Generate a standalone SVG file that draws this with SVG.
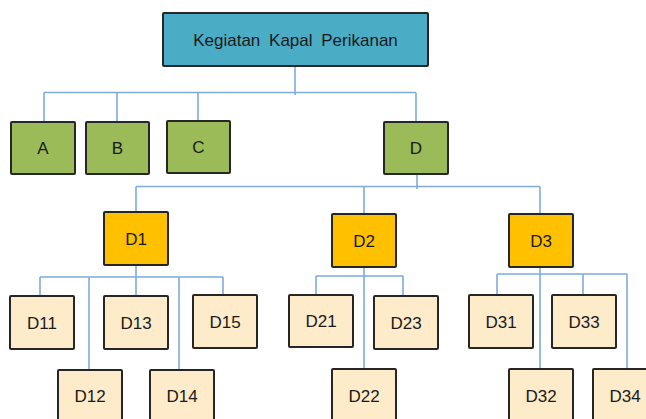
<svg xmlns="http://www.w3.org/2000/svg" width="646" height="419" viewBox="0 0 646 419">
<style>
.box{stroke:#262626;stroke-width:2;rx:1}
.top{fill:#4BACC6}
.g{fill:#9BBB59}
.o{fill:#FFC000}
.c{fill:#FDEBC9}
text{font-family:"Liberation Sans",Arial,sans-serif;font-size:17px;fill:#1a1a1a;text-anchor:middle}
.conn path{fill:none;stroke:#7FAADC;stroke-width:1.6}
</style>
<rect width="646" height="419" fill="#ffffff"/>
<g class="conn" id="connectors">
<path d="M295 66V95"/>
<path d="M44 92.5H416M44 92.5V122M117 92.5V122M198 92.5V121M416 92.5V122"/>
<path d="M417 174V189"/>
<path d="M136 186.5H540M136 186.5V212M364 186.5V214M540 186.5V214"/>
<path d="M136 265V296"/>
<path d="M40 277H223M40 277V296M89 277V370M179 277V370M223 277V295"/>
<path d="M364 267V369"/>
<path d="M316 276H403M316 276V295M403 276V296"/>
<path d="M540 267V369"/>
<path d="M497 274H627M497 274V295M583 274V295M627 274V369"/>
</g>
<g id="root"><rect class="box top" x="163" y="13" width="265" height="53"/><text x="295.5" y="45.5" word-spacing="4">Kegiatan Kapal Perikanan</text></g>
<g id="A"><rect class="box g" x="11" y="122" width="64" height="52"/><text x="43" y="154">A</text></g>
<g id="B"><rect class="box g" x="86" y="122" width="63" height="52"/><text x="117.5" y="154">B</text></g>
<g id="C"><rect class="box g" x="167" y="121" width="63" height="52"/><text x="198.5" y="153">C</text></g>
<g id="D"><rect class="box g" x="384" y="122" width="64" height="52"/><text x="416" y="154">D</text></g>
<g id="D1"><rect class="box o" x="104" y="212" width="64" height="53"/><text x="136" y="244.5">D1</text></g>
<g id="D2"><rect class="box o" x="332" y="214" width="64" height="53"/><text x="364" y="246.5">D2</text></g>
<g id="D3"><rect class="box o" x="509" y="214" width="64" height="53"/><text x="541" y="246.5">D3</text></g>
<g id="D11"><rect class="box c" x="10" y="296" width="64" height="53"/><text x="42" y="328.5">D11</text></g>
<g id="D12"><rect class="box c" x="58" y="370" width="64" height="56"/><text x="90" y="402">D12</text></g>
<g id="D13"><rect class="box c" x="104" y="296" width="64" height="53"/><text x="136" y="328.5">D13</text></g>
<g id="D14"><rect class="box c" x="150" y="370" width="64" height="56"/><text x="182" y="402">D14</text></g>
<g id="D15"><rect class="box c" x="193" y="295" width="64" height="53"/><text x="225" y="327.5">D15</text></g>
<g id="D21"><rect class="box c" x="289" y="295" width="64" height="52"/><text x="321" y="327">D21</text></g>
<g id="D22"><rect class="box c" x="332" y="369" width="64" height="57"/><text x="364" y="401.5">D22</text></g>
<g id="D23"><rect class="box c" x="374" y="296" width="64" height="53"/><text x="406" y="328.5">D23</text></g>
<g id="D31"><rect class="box c" x="469" y="295" width="64" height="53"/><text x="501" y="327.5">D31</text></g>
<g id="D32"><rect class="box c" x="509" y="369" width="64" height="57"/><text x="541" y="401.5">D32</text></g>
<g id="D33"><rect class="box c" x="552" y="295" width="64" height="53"/><text x="584" y="327.5">D33</text></g>
<g id="D34"><rect class="box c" x="593" y="369" width="64" height="57"/><text x="625" y="401.5">D34</text></g>
</svg>
